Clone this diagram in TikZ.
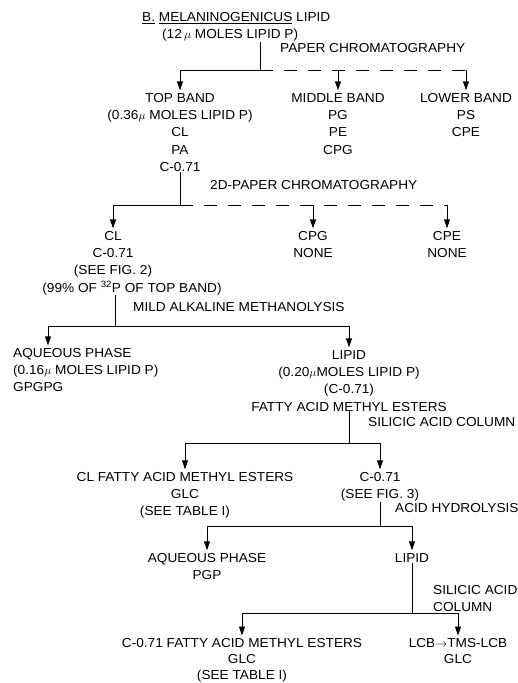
\documentclass[tikz,border=0pt]{standalone}
\usepackage{fontspec}
\setmainfont{Liberation Sans}[FakeStretch=1.05]
\usepackage{tikz}
\usetikzlibrary{arrows.meta, calc}

\tikzset{
  flow/.style={line width=0.9pt},
  arr/.style={flow, -{Triangle[length=9pt, width=6pt]}, shorten >=3pt},
  gap/.style={flow, dash pattern=on 13pt off 11pt},
  blk/.style={align=center, anchor=north, inner sep=0pt},
  lblk/.style={align=left, anchor=north west, inner sep=0pt},
  step label/.style={anchor=base west, inner sep=0pt}
}

\begin{document}
\begin{tikzpicture}[x=1pt, y=-1pt, font=\fontsize{13}{17.2}\selectfont]
    \useasboundingbox (0,0) rectangle (518,683);
    % Starting material
    \node[lblk] (title) at (142, 12.3) {\underline{B.} \underline{MELANINOGENICUS} LIPID\\\hspace*{20pt}(12\,$\mu$ MOLES LIPID P)};
    \node[step label] (pc) at (280, 52.7) {PAPER CHROMATOGRAPHY};
    % Bands
    \node[blk] (top) at (180, 93.3) {TOP BAND\\(0.36$\mu$ MOLES LIPID P)\\CL\\PA\\C-0.71};
    \node[blk] (mid) at (338, 93.3) {MIDDLE BAND\\PG\\PE\\CPG};
    \node[blk] (low) at (466, 93.3) {LOWER BAND\\PS\\CPE};
    \coordinate (j1) at (260, 70);
    \draw[flow] (j1 |- title.south) -- (j1);
    \draw[arr] (j1) -| (top.north);
    \draw[gap] (j1) -- (j1 -| low.north);
    \draw[arr] (j1 -| mid.north) -- (mid.north);
    \draw[arr] (j1 -| low.north) -- (low.north);
    % 2D paper chromatography of top band
    \node[step label] (pc2) at (210, 189.7) {2D-PAPER CHROMATOGRAPHY};
    \node[blk] (cl) at (113, 231.3) {CL\\C-0.71\\(SEE FIG. 2)\\\hspace*{38pt}(99\% OF \textsuperscript{32}P OF TOP BAND)};
    \node[blk] (cpg) at (313, 231.3) {CPG\\NONE};
    \node[blk] (cpe) at (447, 231.3) {CPE\\NONE};
    \coordinate (j2) at (180, 205);
    \draw[flow] (top.south) -- (j2);
    \draw[arr] (j2) -| (cl.north);
    \draw[gap] (j2) -- (j2 -| cpe.north);
    \draw[arr] (j2 -| cpg.north) -- (cpg.north);
    \draw[arr] (j2 -| cpe.north) -- (cpe.north);
    % Mild alkaline methanolysis
    \node[step label] (mam) at (133, 311.7) {MILD ALKALINE METHANOLYSIS};
    \node[lblk] (aq1) at (13, 348.3) {AQUEOUS PHASE\\(0.16$\mu$ MOLES LIPID P)\\GPGPG};
    \node[blk] (lip1) at (349, 350.3) {LIPID\\(0.20$\mu$MOLES LIPID P)\\(C-0.71)\\FATTY ACID METHYL ESTERS};
    \coordinate (j3) at (115, 326);
    \draw[flow] (j3 |- cl.south) -- (j3);
    \draw[arr] (j3) -| ([xshift=35pt]aq1.north west);
    \draw[arr] (j3) -| (lip1.north);
    % Silicic acid column
    \node[step label] (sac) at (368, 426.7) {SILICIC ACID COLUMN};
    \node[blk] (clf) at (185, 472.3) {CL FATTY ACID METHYL ESTERS\\GLC\\(SEE TABLE I)};
    \node[blk] (c071) at (380, 472.3) {C-0.71\\(SEE FIG. 3)};
    \coordinate (j4) at (349, 443);
    \draw[flow] (lip1.south) -- (j4);
    \draw[arr] (j4) -| (clf.north);
    \draw[arr] (j4) -| (c071.north);
    % Acid hydrolysis
    \node[step label] (ah) at (395, 512.7) {ACID HYDROLYSIS};
    \node[blk] (aq2) at (207, 553.3) {AQUEOUS PHASE\\PGP};
    \node[blk] (lip2) at (412, 553.3) {LIPID};
    \coordinate (j5) at (380, 526);
    \draw[flow] (c071.south) -- (j5);
    \draw[arr] (j5) -| (aq2.north);
    \draw[arr] (j5) -| (lip2.north);
    % Second silicic acid column
    \node[lblk] (sac2) at (433, 585.3) {SILICIC ACID\\COLUMN};
    \node[blk, font=\fontsize{13}{16}\selectfont] (c071f) at (242, 638.5) {C-0.71 FATTY ACID METHYL ESTERS\\GLC\\(SEE TABLE I)};
    \node[blk, font=\fontsize{13}{16}\selectfont] (lcb) at (458, 638.5) {LCB$\rightarrow$TMS-LCB\\GLC};
    \coordinate (j6) at (412, 613);
    \draw[flow] (lip2.south) -- (j6);
    \draw[arr] (j6) -| (c071f.north);
    \draw[arr] (j6) -| (lcb.north);
\end{tikzpicture}
\end{document}
